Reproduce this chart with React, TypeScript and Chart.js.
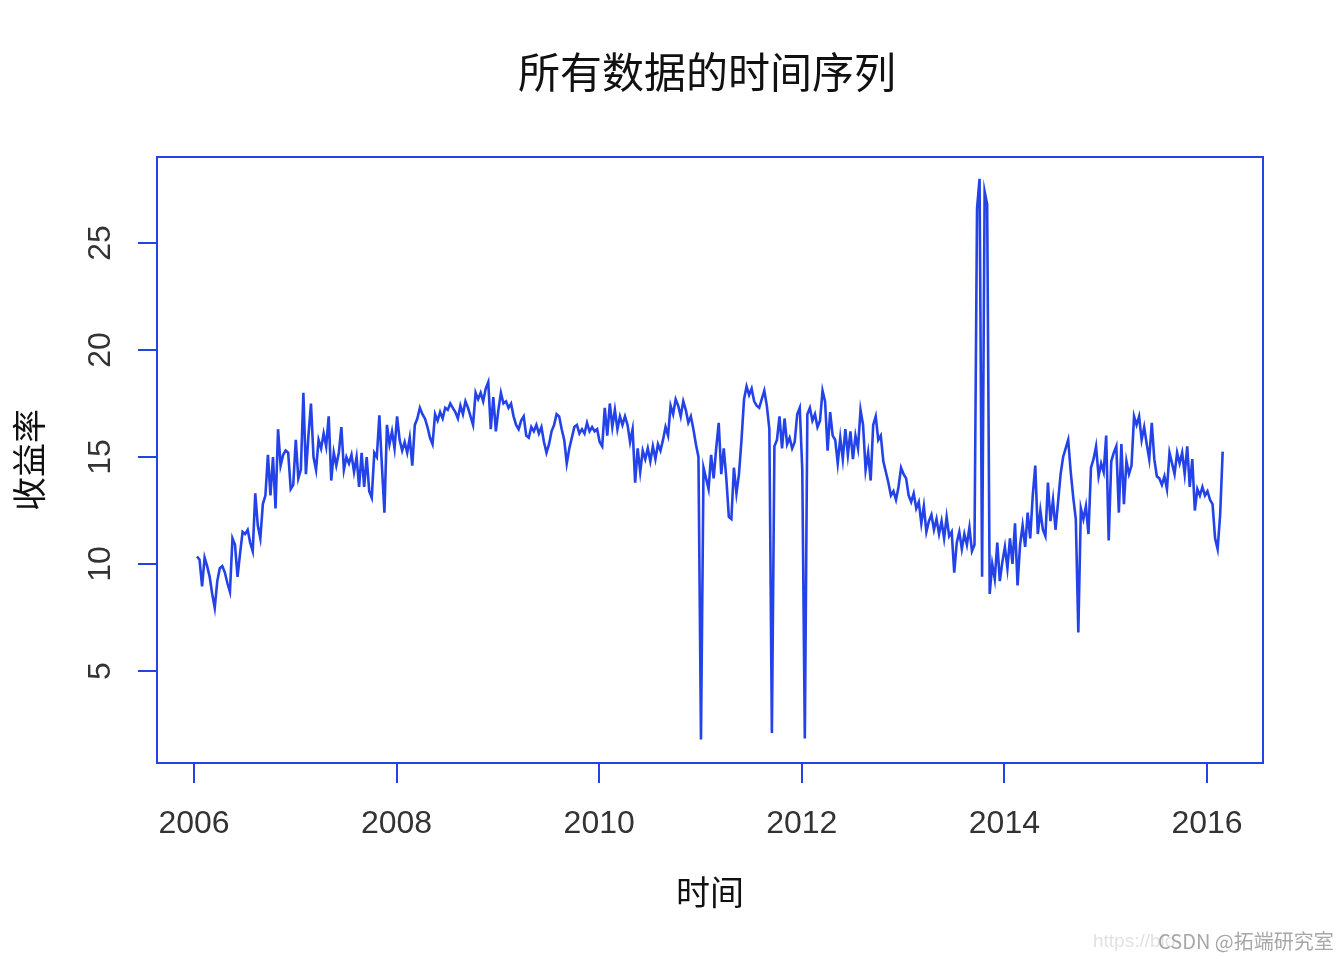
import React, { useEffect, useRef } from 'react';
import { Chart, registerables } from 'chart.js';

Chart.register(...registerables);

// Regular time index (≈ 40 observations per year)
const startYear = 2006.03;
const stepYear = 1 / 40;

// Series values, in consecutive chunks
const values2006 = [
  10.35, 10.2, 8.95, 10.3, 9.9, 9.4, 8.6, 7.95, 9.2, 9.8,
  9.9, 9.6, 9.1, 8.7, 11.2, 10.9, 9.4, 10.5, 11.5, 11.4,
  11.6, 11.0, 10.6, 13.3, 11.8, 11.2, 12.8, 13.2, 15.1, 13.2,
  15.0, 12.6, 16.3, 14.6, 15.1, 15.3, 15.2, 13.5, 13.7, 15.8,
];
const values2007 = [
  14.0, 14.4, 18.0, 14.2, 16.0, 17.5, 15.0, 14.4, 15.8, 15.4,
  16.1, 15.5, 16.9, 13.9, 15.2, 14.6, 15.2, 16.4, 14.4, 15.0,
  14.7, 15.1, 14.3, 15.0, 13.6, 15.2, 13.6, 15.0, 13.4, 13.1,
  15.2, 15.0, 16.95, 14.6, 12.4, 16.5, 15.6, 16.2, 15.4, 16.9,
];
const values2008 = [
  15.8, 15.3, 15.7, 15.2, 15.9, 14.6, 16.5, 16.8, 17.3, 17.0,
  16.8, 16.4, 15.9, 15.6, 17.0, 16.7, 17.1, 16.8, 17.3, 17.2,
  17.5, 17.3, 17.1, 16.8, 17.4, 17.0, 17.6, 17.3, 16.9, 16.5,
  18.0, 17.7, 18.0, 17.6, 18.2, 18.5, 16.3, 17.8, 16.2, 17.2,
];
const values2009 = [
  18.0, 17.5, 17.6, 17.3, 17.5, 16.9, 16.5, 16.3, 16.7, 16.9,
  16.0, 15.9, 16.4, 16.2, 16.5, 16.1, 16.4, 15.7, 15.2, 15.6,
  16.2, 16.5, 17.0, 16.9, 16.3, 15.8, 14.7, 15.4, 15.9, 16.4,
  16.5, 16.1, 16.3, 16.1, 16.6, 16.2, 16.4, 16.2, 16.3, 15.7,
];
const values2010 = [
  15.5, 17.3, 16.0, 17.5, 16.4, 17.2, 16.3, 16.9, 16.5, 16.9,
  16.5, 15.7, 16.3, 13.8, 15.4, 14.3, 15.3, 14.9, 15.4, 14.8,
  15.5, 14.9, 15.6, 15.3, 15.8, 16.4, 16.0, 17.4, 17.0, 17.7,
  17.4, 16.9, 17.6, 17.2, 16.6, 16.9, 16.3, 15.6, 15.0, 1.8,
];
const values2011 = [
  14.5, 14.0, 13.5, 15.1, 14.0, 15.4, 16.6, 14.2, 15.4, 14.0,
  12.2, 12.1, 14.5, 13.3, 14.2, 15.8, 17.7, 18.3, 17.9, 18.2,
  17.6, 17.4, 17.3, 17.7, 18.1, 17.4, 16.3, 2.1, 15.5, 15.8,
  16.9, 15.4, 16.8, 15.6, 15.9, 15.4, 15.7, 17.0, 17.3, 14.4,
];
const values2012 = [
  1.85, 17.0, 17.3, 16.7, 17.0, 16.4, 16.7, 18.1, 17.6, 15.3,
  17.1, 16.0, 15.8, 14.7, 15.9, 14.9, 16.3, 15.1, 16.2, 14.9,
  16.0, 15.4, 17.2, 16.5, 14.4, 15.2, 13.9, 16.5, 16.9, 15.8,
  16.0, 14.8, 14.3, 13.8, 13.2, 13.4, 13.0, 13.6, 14.5, 14.2,
];
const values2013 = [
  14.0, 13.2, 12.9, 13.3, 12.6, 12.9, 11.9, 12.7, 11.5, 12.0,
  12.3, 11.6, 12.1, 11.4, 12.0, 11.2, 12.2, 11.3, 11.5, 9.6,
  11.0, 11.5, 10.7, 11.4, 10.9, 11.7, 10.6, 10.9, 26.6, 28.0,
  9.4, 27.4, 26.8, 8.6, 10.0, 9.3, 11.0, 9.2, 10.1, 10.8,
];
const values2014 = [
  9.8, 11.2, 10.0, 11.9, 9.0, 10.9, 11.8, 10.8, 12.4, 11.2,
  13.2, 14.6, 11.4, 12.5, 11.6, 11.3, 13.8, 12.0, 13.0, 11.6,
  12.9, 14.2, 15.0, 15.4, 15.8, 14.3, 13.1, 12.1, 6.8, 12.6,
  12.1, 12.7, 11.4, 14.5, 14.9, 15.5, 14.1, 14.7, 14.3, 16.0,
];
const values2015 = [
  11.1, 14.8, 15.2, 15.5, 12.4, 15.6, 12.8, 14.8, 14.2, 14.6,
  16.9, 16.5, 16.9, 15.8, 16.4, 15.6, 14.9, 16.6, 14.9, 14.1,
  14.0, 13.7, 14.1, 13.5, 15.2, 14.7, 14.2, 15.2, 14.7, 15.2,
  14.2, 15.5, 13.6, 14.9, 12.5, 13.5, 13.2, 13.6, 13.2, 13.4,
];
const values2016 = [13.0, 12.8, 11.2, 10.7, 12.3, 15.25];

const seriesValues = [
  ...values2006, ...values2007, ...values2008, ...values2009, ...values2010,
  ...values2011, ...values2012, ...values2013, ...values2014, ...values2015,
  ...values2016,
];

const xTickValues = [2006, 2008, 2010, 2012, 2014, 2016];
const yTickValues = [5, 10, 15, 20, 25];

const chartTitle = '所有数据的时间序列';
const xAxisTitle = '时间';
const yAxisTitle = '收益率';
const watermarkUrl = 'https://blo';
const watermarkText = 'CSDN @拓端研究室';

const BLUE = '#2343e8';
const CJK = '"Noto Sans CJK SC", "Noto Sans", sans-serif';
const LATIN = '"Liberation Sans", Arial, sans-serif';

const decorPlugin = {
  id: 'decor',
  afterDatasetsDraw(chart: any) {
    const { ctx, chartArea } = chart;
    ctx.save();
    ctx.strokeStyle = BLUE;
    ctx.lineWidth = 2;
    ctx.strokeRect(chartArea.left, chartArea.top, chartArea.right - chartArea.left, chartArea.bottom - chartArea.top);
    ctx.restore();
  },
  afterDraw(chart: any) {
    const { ctx } = chart;
    ctx.save();
    ctx.fillStyle = '#111';
    ctx.font = `42px ${CJK}`;
    ctx.textAlign = 'center';
    ctx.textBaseline = 'middle';
    ctx.fillText(chartTitle, 707, 72);

    ctx.textAlign = 'left';
    ctx.font = `19px ${LATIN}`;
    ctx.fillStyle = '#e2e2e2';
    ctx.fillText(watermarkUrl, 1093, 942);
    ctx.font = `20px ${CJK}`;
    ctx.fillStyle = '#a8a8a8';
    ctx.fillText(watermarkText, 1158, 941);
    ctx.restore();
  },
};

export default function App() {
  const ref = useRef<HTMLCanvasElement>(null);

  useEffect(() => {
    document.body.style.margin = '0';
    const points = seriesValues.map((v, i) => ({ x: startYear + i * stepYear, y: v }));
    const chart = new Chart(ref.current as HTMLCanvasElement, {
      type: 'line',
      data: {
        datasets: [
          {
            data: points,
            borderColor: BLUE,
            borderWidth: 2.6,
            pointRadius: 0,
            fill: false,
            tension: 0,
            borderJoinStyle: 'miter',
          } as any,
        ],
      },
      options: {
        animation: false,
        responsive: false,
        maintainAspectRatio: false,
        devicePixelRatio: 1,
        layout: { padding: { left: 0, right: 81, top: 157, bottom: 0 } },
        plugins: {
          legend: { display: false },
          tooltip: { enabled: false },
          title: { display: false },
        },
        scales: {
          x: {
            type: 'linear',
            min: 2005.635,
            max: 2016.553,
            afterBuildTicks: (s: any) => {
              s.ticks = xTickValues.map((v) => ({ value: v }));
            },
            afterFit: (s: any) => {
              s.height = 197;
            },
            grid: { drawOnChartArea: false, drawTicks: true, tickLength: 20, color: BLUE, lineWidth: 2 },
            border: { display: false },
            ticks: {
              color: '#333',
              font: { family: LATIN, size: 32 },
              padding: 22,
              maxRotation: 0,
              autoSkip: false,
              callback: (v: any) => String(v),
            },
            title: {
              display: true,
              text: xAxisTitle,
              color: '#111',
              font: { family: CJK, size: 34 },
              padding: { top: 0, bottom: 48 },
            },
          },
          y: {
            type: 'linear',
            min: 0.7,
            max: 29.02,
            afterBuildTicks: (s: any) => {
              s.ticks = yTickValues.map((v) => ({ value: v }));
            },
            afterFit: (s: any) => {
              s.width = 157;
            },
            grid: { drawOnChartArea: false, drawTicks: true, tickLength: 19, color: BLUE, lineWidth: 2 },
            border: { display: false },
            ticks: {
              color: '#333',
              font: { family: LATIN, size: 32 },
              padding: 19,
              minRotation: 90,
              maxRotation: 90,
              crossAlign: 'center',
              autoSkip: false,
              callback: (v: any) => String(v),
            },
            title: {
              display: true,
              text: yAxisTitle,
              color: '#111',
              font: { family: CJK, size: 34 },
              padding: { top: 9, bottom: 0 },
            },
          },
        },
      } as any,
      plugins: [decorPlugin],
    });
    return () => chart.destroy();
  }, []);

  return (
    <div style={{ position: 'relative', width: 1344, height: 960, background: '#fff' }}>
      <canvas ref={ref} width={1344} height={960} style={{ width: 1344, height: 960, display: 'block' }} />
    </div>
  );
}
